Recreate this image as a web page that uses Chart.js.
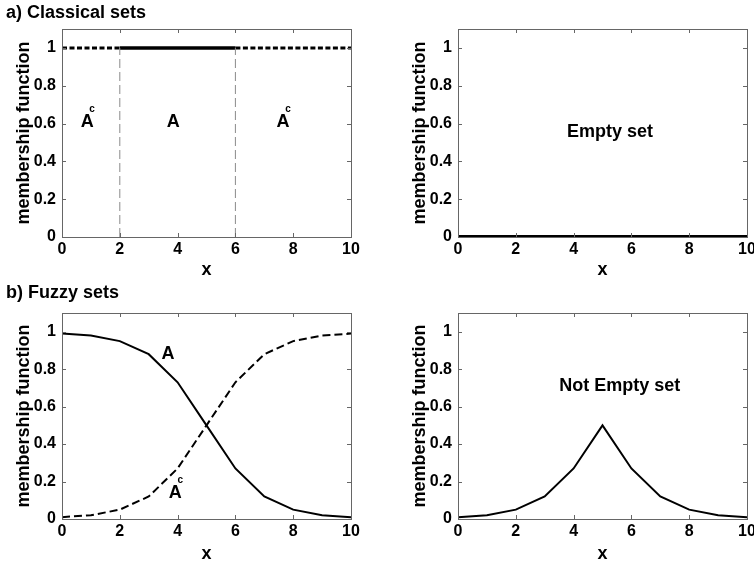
<!DOCTYPE html>
<html>
<head>
<meta charset="utf-8">
<script src="https://cdn.jsdelivr.net/npm/chart.js@4.4.1/dist/chart.umd.min.js"></script>
<style>
body { margin: 0; background: #fff; }
#wrap { position: relative; width: 754px; height: 562px; overflow: hidden; background: #fff; }
canvas { position: absolute; }
</style>
</head>
<body>
<div id="wrap">
  <canvas id="klasikChart" width="377" height="281" style="left:0;top:0"></canvas>
  <canvas id="kosongChart" width="400" height="281" style="left:377px;top:0"></canvas>
  <canvas id="fuzzyChart" width="377" height="281" style="left:0;top:281px"></canvas>
  <canvas id="irisanChart" width="400" height="281" style="left:377px;top:281px"></canvas>
</div>
<script>
// tick labels
var xTicks = [0, 2, 4, 6, 8, 10];
var yTicks = [0, 0.2, 0.4, 0.6, 0.8, 1];

// a) classical sets
var klasikA = [[2, 1], [6, 1]];
var klasikAcKiri = [[0, 1], [2, 1]];
var klasikAcKanan = [[6, 1], [10, 1]];
var batasKiri = [[2, 0], [2, 1]];
var batasKanan = [[6, 0], [6, 1]];
var himpunanKosong = [[0, 0], [10, 0]];

// b) fuzzy sets
var fuzzyX = [0, 1, 2, 3, 4, 5, 6, 7, 8, 9, 10];
var fuzzyA = [0.99, 0.98, 0.95, 0.88, 0.73, 0.5, 0.27, 0.12, 0.05, 0.02, 0.01];
var fuzzyAc = [0.01, 0.02, 0.05, 0.12, 0.27, 0.5, 0.73, 0.88, 0.95, 0.98, 0.99];
var fuzzyIrisan = [0.01, 0.02, 0.05, 0.12, 0.27, 0.5, 0.27, 0.12, 0.05, 0.02, 0.01];

var hurufFont = "'Liberation Sans', Arial, sans-serif";
var fontTick = { family: hurufFont, size: 16, weight: 'bold' };
var fontJudul = { family: hurufFont, size: 18, weight: 'bold' };

function keTitik(pasangan) {
    return pasangan.map(function (p) { return { x: p[0], y: p[1] }; });
}

function gabungXY(xs, ys) {
    return xs.map(function (x, i) { return { x: x, y: ys[i] }; });
}

function garis(data, warna, tebal, putus) {
    return {
        data: data,
        borderColor: warna,
        borderWidth: tebal,
        borderDash: putus || [],
        pointRadius: 0,
        tension: 0,
        fill: false
    };
}

// plugin: box, inner ticks, panel title and text notes
var catatanPlugin = {
    id: 'catatan',
    afterDatasetsDraw: function (chart, args, opts) {
        var ctx = chart.ctx;
        var area = chart.chartArea;
        var sx = chart.scales.x;
        var sy = chart.scales.y;
        ctx.save();
        ctx.strokeStyle = '#666';
        ctx.lineWidth = 1;
        ctx.beginPath();
        xTicks.forEach(function (v) {
            var px = Math.round(sx.getPixelForValue(v)) + 0.5;
            ctx.moveTo(px, area.bottom); ctx.lineTo(px, area.bottom - 4);
            ctx.moveTo(px, area.top); ctx.lineTo(px, area.top + 4);
        });
        yTicks.forEach(function (v) {
            var py = Math.round(sy.getPixelForValue(v)) + 0.5;
            ctx.moveTo(area.left, py); ctx.lineTo(area.left + 4, py);
            ctx.moveTo(area.right, py); ctx.lineTo(area.right - 4, py);
        });
        ctx.stroke();
        ctx.strokeRect(Math.round(area.left) + 0.5, Math.round(area.top) + 0.5,
            Math.round(area.right - area.left), Math.round(area.bottom - area.top));

        ctx.fillStyle = '#000';
        if (opts.judul) {
            ctx.font = 'bold 18px ' + hurufFont;
            ctx.textAlign = 'left';
            ctx.textBaseline = 'alphabetic';
            ctx.fillText(opts.judul, 6, opts.judulY);
        }
        (opts.teks || []).forEach(function (t) {
            var px = sx.getPixelForValue(t.x);
            var py = sy.getPixelForValue(t.y);
            ctx.font = 'bold 18px ' + hurufFont;
            ctx.textAlign = 'center';
            ctx.textBaseline = 'middle';
            ctx.fillText(t.isi, px, py);
            if (t.atas) {
                ctx.font = 'bold 10px ' + hurufFont;
                ctx.fillText(t.atas, px + 5, py - 12.5);
            }
        });
        ctx.restore();
    }
};

function bikinChart(id, datasets, setelan) {
    var ctx = document.getElementById(id).getContext('2d');
    return new Chart(ctx, {
        type: 'line',
        data: { datasets: datasets },
        options: {
            responsive: false,
            animation: false,
            layout: { padding: { left: 0, right: setelan.kanan, top: setelan.atas, bottom: 0 } },
            plugins: {
                legend: { display: false },
                tooltip: { enabled: false },
                catatan: { judul: setelan.judul, judulY: setelan.judulY, teks: setelan.teks }
            },
            scales: {
                x: {
                    type: 'linear', min: 0, max: 10,
                    grid: { display: false, drawTicks: false }, border: { display: false },
                    afterBuildTicks: function (ax) {
                        ax.ticks = xTicks.map(function (v) { return { value: v }; });
                    },
                    afterFit: function (ax) { ax.height = setelan.tinggiX; },
                    ticks: {
                        color: '#000', font: fontTick, padding: 3, maxRotation: 0, autoSkip: false,
                        callback: function (v) { return String(v); }
                    },
                    title: { display: true, text: 'x', color: '#000', font: fontJudul,
                        padding: { top: 0, bottom: setelan.padX } }
                },
                y: {
                    type: 'linear', min: 0, max: 1.1,
                    grid: { display: false, drawTicks: false }, border: { display: false },
                    afterBuildTicks: function (ax) {
                        ax.ticks = yTicks.map(function (v) { return { value: v }; });
                    },
                    afterFit: function (ax) { ax.width = setelan.lebarY; },
                    ticks: {
                        color: '#000', font: fontTick, padding: 6, autoSkip: false,
                        callback: function (v) { return String(v); }
                    },
                    title: { display: true, text: 'membership function', color: '#000', font: fontJudul,
                        padding: { top: setelan.padY, bottom: 0 } }
                }
            }
        },
        plugins: [catatanPlugin]
    });
}

// a) classical sets
bikinChart('klasikChart', [
    garis(keTitik(batasKiri), '#8a8a8a', 1, [9, 4]),
    garis(keTitik(batasKanan), '#8a8a8a', 1, [9, 4]),
    garis(keTitik(klasikAcKiri), '#000', 3, [5, 2.5]),
    garis(keTitik(klasikAcKanan), '#000', 3, [5, 2.5]),
    garis(keTitik(klasikA), '#000', 3.5)
], {
    kanan: 26, atas: 29, tinggiX: 44, lebarY: 62, padY: 13, padX: 0,
    judul: 'a) Classical sets', judulY: 18,
    teks: [
        { isi: 'A', atas: 'c', x: 0.87, y: 0.61 },
        { isi: 'A', x: 3.85, y: 0.61 },
        { isi: 'A', atas: 'c', x: 7.65, y: 0.61 }
    ]
});

// empty set
bikinChart('kosongChart', [
    garis(keTitik(himpunanKosong), '#000', 4)
], {
    kanan: 30, atas: 29, tinggiX: 44, lebarY: 81, padY: 32, padX: 0,
    teks: [ { isi: 'Empty set', x: 5.26, y: 0.555 } ]
});

// b) fuzzy sets
bikinChart('fuzzyChart', [
    garis(gabungXY(fuzzyX, fuzzyAc), '#000', 2, [8, 4]),
    garis(gabungXY(fuzzyX, fuzzyA), '#000', 2)
], {
    kanan: 26, atas: 32, tinggiX: 43, lebarY: 62, padY: 13, padX: -3,
    judul: 'b) Fuzzy sets', judulY: 17,
    teks: [
        { isi: 'A', x: 3.67, y: 0.88 },
        { isi: 'A', atas: 'c', x: 3.92, y: 0.138 }
    ]
});

// not empty set
bikinChart('irisanChart', [
    garis(gabungXY(fuzzyX, fuzzyIrisan), '#000', 2)
], {
    kanan: 30, atas: 32, tinggiX: 43, lebarY: 81, padY: 32, padX: -3,
    teks: [ { isi: 'Not Empty set', x: 5.6, y: 0.71 } ]
});
</script>
</body>
</html>
